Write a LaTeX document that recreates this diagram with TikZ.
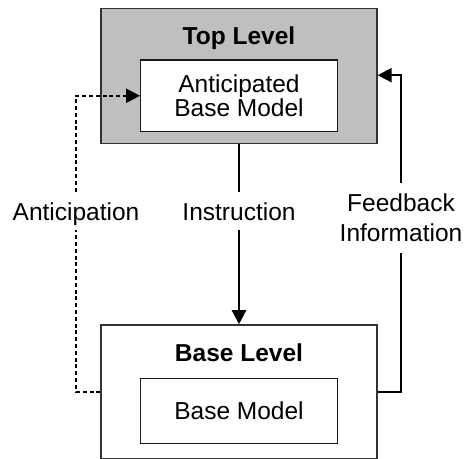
\documentclass[tikz,border=0pt]{standalone}
\usepackage{fontspec}
\setmainfont{Liberation Sans}
\usetikzlibrary{arrows.meta}
\tikzset{
  levelbox/.style={draw=black!80, line width=0.65pt, minimum width=138pt, minimum height=67.5pt, inner sep=0pt},
  modelbox/.style={draw=black!90, line width=0.65pt, fill=white, minimum width=98.3pt, inner sep=0pt, align=center},
  flowlabel/.style={inner sep=0pt, text height=10pt, text depth=0pt, minimum height=19pt},
  link/.style={line width=1.15pt},
  flow/.style={link, -{Triangle[length=7pt,width=7pt]}},
}
\begin{document}
\begin{tikzpicture}[x=0.5pt,y=-0.5pt,font=\fontsize{12.25}{12.2}\selectfont]
\useasboundingbox (0,0) rectangle (468,459);
% the two levels
\node[levelbox, fill=black!25] (top) at (239,75.8) {};
\node[font=\fontsize{12.25}{12.2}\selectfont\bfseries] (toptitle) at (239,38) {Top Level};
\node[modelbox, minimum height=35.8pt] (antmodel) at (239,95.8) {Anticipated\\Base Model};
\node[levelbox, minimum height=66.8pt] (base) at (239,391.7) {};
\node[font=\fontsize{12.25}{12.2}\selectfont\bfseries] (basetitle) at (239,353) {Base Level};
\node[modelbox, minimum height=32.5pt] (basemodel) at (239,410.8) {Base Model};
% labels on the connectors
\node[flowlabel] (antic) at (76,211) {Anticipation};
\node[flowlabel] (instr) at (239,211) {Instruction};
\node[inner sep=0pt, minimum height=35pt, align=center, font=\fontsize{12.25}{15}\selectfont] (feed) at (401,218) {Feedback\\Information};
% connectors
\draw[link, dash pattern=on 2pt off 1.4pt] (base.west) -| (antic.south);
\draw[flow, dash pattern=on 2pt off 1.4pt] (antic.north) |- (antmodel.west);
\draw[link] (top.south) -- (instr.north);
\draw[flow] (instr.south) -- (base.north);
\draw[link] (base.east) -| (feed.south);
\draw[flow] (feed.north) |- ([yshift=0.3pt]top.east);
\end{tikzpicture}
\end{document}
